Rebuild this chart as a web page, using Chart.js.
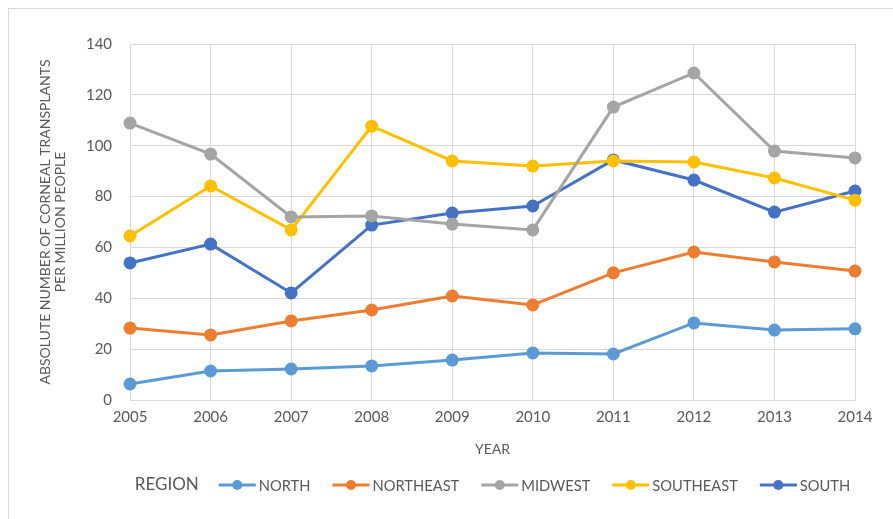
<!DOCTYPE html>
<html><head><meta charset="utf-8">
<script src="https://cdn.jsdelivr.net/npm/chart.js@4.4.1/dist/chart.umd.min.js"></script>
<style>html,body{margin:0;padding:0;background:#fff}#wrap{width:893px;height:519px;position:relative}</style>
</head><body><div id="wrap"><canvas id="c" width="893" height="519"></canvas></div>
<script>
const years = ['2005','2006','2007','2008','2009','2010','2011','2012','2013','2014'];
const north     = [6.3, 11.4, 12.2, 13.4, 15.7, 18.5, 18.1, 30.3, 27.5, 28.0];
const northeast = [28.3, 25.6, 31.1, 35.4, 40.9, 37.4, 50.0, 58.2, 54.3, 50.7];
const midwest   = [108.9, 96.7, 72.0, 72.4, 69.2, 66.9, 115.2, 128.6, 97.9, 95.2];
const southeast = [64.5, 84.2, 66.9, 107.7, 94.0, 92.0, 94.0, 93.6, 87.3, 78.6];
const south     = [53.9, 61.3, 42.1, 68.8, 73.5, 76.3, 94.4, 86.5, 73.9, 82.2];
const seriesNames = ['NORTH','NORTHEAST','MIDWEST','SOUTHEAST','SOUTH'];
const seriesColors = ['#5B9BD5','#ED7D31','#A5A5A5','#FFC000','#4472C4'];
const yMin = 0, yMax = 140, yStep = 20;
const legendTitle = 'REGION';
const xTitle = 'YEAR';
const yTitle = ['ABSOLUTE NUMBER OF CORNEAL TRANSPLANTS','PER MILLION PEOPLE'];

const FONT = 'Lato, "Open Sans", sans-serif';
const TXT = '#595959';

const seriesData = [north, northeast, midwest, southeast, south];
const datasets = seriesData.map((d, i) => ({
  label: seriesNames[i],
  data: d,
  borderColor: seriesColors[i],
  backgroundColor: seriesColors[i],
  pointBackgroundColor: seriesColors[i],
  pointBorderColor: seriesColors[i],
  borderWidth: 3,
  pointRadius: 5,
  pointHoverRadius: 5,
  tension: 0,
  fill: false
}));

const framePlugin = {
  id: 'frame',
  beforeDraw(chart) {
    const ctx = chart.ctx;
    ctx.save();
    ctx.fillStyle = '#fff';
    ctx.fillRect(0, 0, chart.width, chart.height);
    ctx.strokeStyle = '#d9d9d9';
    ctx.lineWidth = 1;
    ctx.strokeRect(8.5, 8.5, chart.width + 20, chart.height + 20);
    ctx.restore();
  }
};

const inlineLegend = {
  id: 'inlineLegend',
  afterDraw(chart) {
    const ctx = chart.ctx;
    ctx.save();
    const y = chart.height - 34;
    const titleFont = '17px ' + FONT;
    const itemFont = '14.7px ' + FONT;
    const lineLen = 37, gapLineText = 3, gapItems = 22, gapTitle = 20;
    ctx.font = titleFont;
    const tW = ctx.measureText(legendTitle).width;
    ctx.font = itemFont;
    const items = chart.data.datasets.map(ds => ({ label: ds.label, color: ds.borderColor, w: ctx.measureText(ds.label).width }));
    let total = tW + gapTitle;
    items.forEach((it, i) => { total += lineLen + gapLineText + it.w + (i < items.length - 1 ? gapItems : 0); });
    const ca = chart.chartArea;
    let x = (ca.left + ca.right) / 2 - total / 2;
    ctx.textBaseline = 'middle';
    ctx.textAlign = 'left';
    ctx.fillStyle = TXT;
    ctx.font = titleFont;
    ctx.fillText(legendTitle, x, y);
    x += tW + gapTitle;
    ctx.font = itemFont;
    items.forEach(it => {
      ctx.strokeStyle = it.color;
      ctx.lineWidth = 3;
      ctx.beginPath();
      ctx.moveTo(x, y); ctx.lineTo(x + lineLen, y); ctx.stroke();
      ctx.fillStyle = it.color;
      ctx.beginPath();
      ctx.arc(x + lineLen / 2, y, 5, 0, Math.PI * 2); ctx.fill();
      x += lineLen + gapLineText;
      ctx.fillStyle = TXT;
      ctx.fillText(it.label, x, y + 1);
      x += it.w + gapItems;
    });
    ctx.restore();
  }
};

new Chart(document.getElementById('c'), {
  type: 'line',
  data: { labels: years, datasets },
  options: {
    responsive: false,
    animation: false,
    layout: { padding: { left: 38, right: 38, top: 44, bottom: 61.6 } },
    plugins: {
      legend: { display: false },
      tooltip: { enabled: false }
    },
    scales: {
      x: {
        offset: false,
        grid: { color: '#d9d9d9', drawTicks: false, lineWidth: 1 },
        border: { color: '#d9d9d9' },
        ticks: { color: TXT, font: { family: FONT, size: 15 }, padding: 8, maxRotation: 0 },
        title: { display: true, text: xTitle, color: TXT, font: { family: FONT, size: 14 }, padding: { top: 6.6, bottom: 0 } }
      },
      y: {
        min: yMin, max: yMax,
        grid: { color: '#d9d9d9', drawTicks: false, lineWidth: 1 },
        border: { color: '#d9d9d9' },
        ticks: { stepSize: yStep, color: TXT, font: { family: FONT, size: 15 }, padding: 18 },
        title: { display: true, text: yTitle, color: TXT, font: { family: FONT, size: 14, lineHeight: 1.07 }, padding: { top: 0, bottom: 0 } }
      }
    }
  },
  plugins: [framePlugin, inlineLegend]
});
</script>
</body></html>
